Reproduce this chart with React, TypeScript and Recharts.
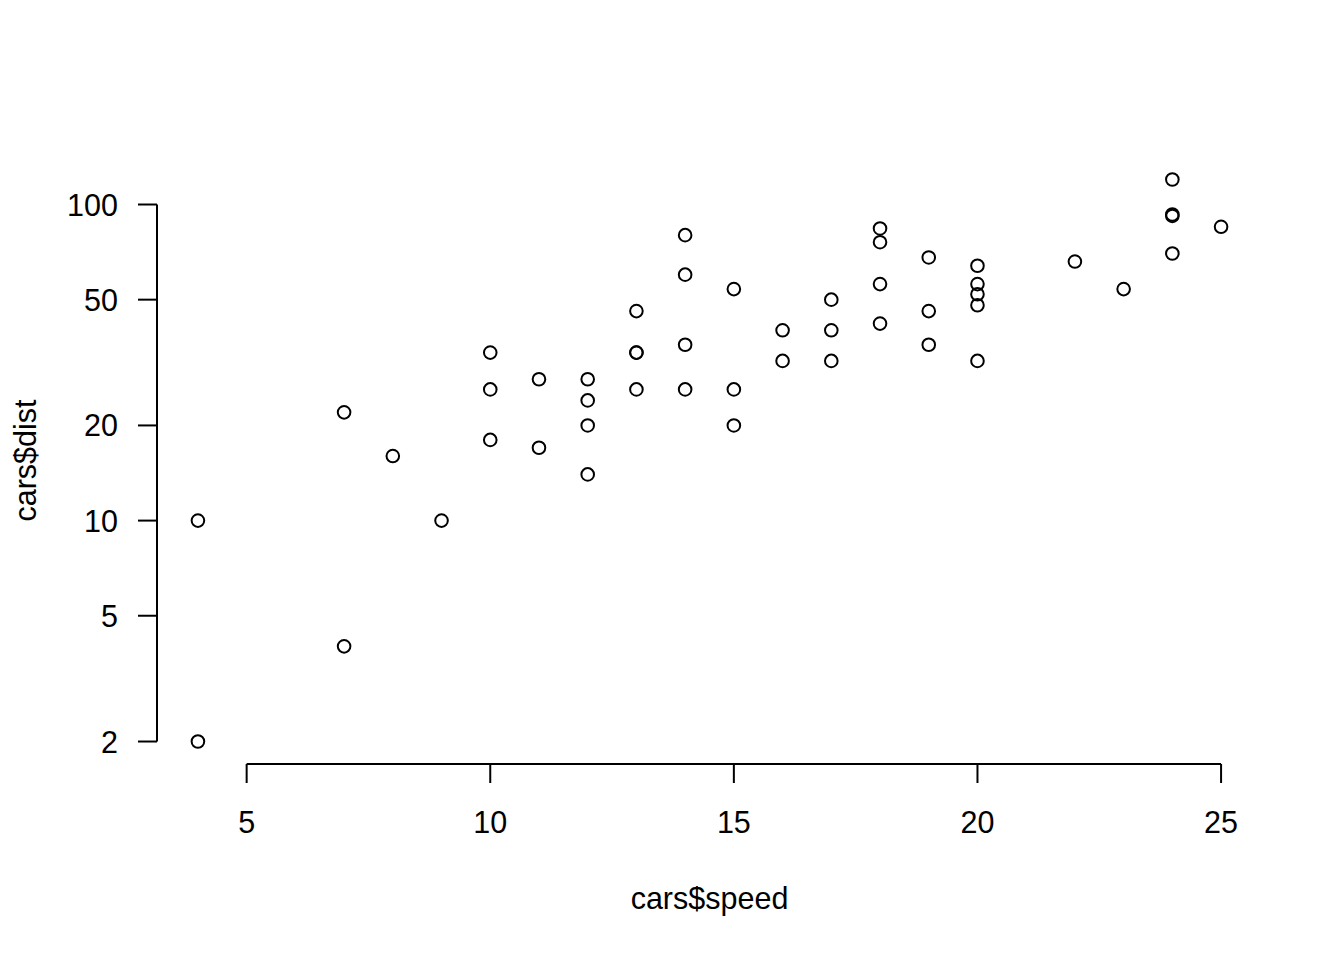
import { Label, ReferenceLine, Scatter, ScatterChart, XAxis, YAxis } from 'recharts'

// R's built-in `cars` data set
const speed = [
  4, 4, 7, 7, 8, 9, 10, 10, 10, 11, 11, 12, 12, 12, 12, 13, 13, 13, 13, 14, 14, 14, 14, 15, 15,
  15, 16, 16, 17, 17, 17, 18, 18, 18, 18, 19, 19, 19, 20, 20, 20, 20, 20, 22, 23, 24, 24, 24, 24, 25,
]
const dist = [
  2, 10, 4, 22, 16, 10, 18, 26, 34, 17, 28, 14, 20, 24, 28, 26, 34, 34, 46, 26, 36, 60, 80, 20, 26,
  54, 32, 40, 32, 40, 50, 42, 56, 76, 84, 36, 46, 68, 32, 48, 52, 56, 64, 66, 54, 70, 92, 93, 120, 85,
]
const xTicks = [5, 10, 15, 20, 25]
const yTicks = [2, 5, 10, 20, 50, 100]

const FONT = '"Liberation Sans", Arial, sans-serif'
const FS = 30.5
const LW = 2

// R pads the data range by 4% on each side (log scale for y)
const xMin = Math.min(...speed)
const xMax = Math.max(...speed)
const xPad = (xMax - xMin) * 0.04
const xLo = xMin - xPad
const xHi = xMax + xPad

const lMin = Math.log10(Math.min(...dist))
const lMax = Math.log10(Math.max(...dist))
const lPad = (lMax - lMin) * 0.04
const yLo = Math.pow(10, lMin - lPad)
const yHi = Math.pow(10, lMax + lPad)

const data = speed.map((s, i) => ({ speed: s, dist: dist[i] }))

function XTick({ x, y, payload }: any) {
  return (
    <text x={x} y={y + 50} textAnchor="middle" fontSize={FS} fontFamily={FONT} fill="#000">
      {payload.value}
    </text>
  )
}

function YTick({ x, y, payload }: any) {
  return (
    <text x={x} y={y + 11} textAnchor="end" fontSize={FS} fontFamily={FONT} fill="#000">
      {payload.value}
    </text>
  )
}

function Ring({ cx, cy }: any) {
  return <circle cx={cx} cy={cy} r={6.3} fill="none" stroke="#000" strokeWidth={LW} />
}

function XTitle({ viewBox }: any) {
  const cx = viewBox.x + viewBox.width / 2
  return (
    <text x={cx} y={909} textAnchor="middle" fontSize={FS} fontFamily={FONT} fill="#000">
      cars$speed
    </text>
  )
}

function YTitle({ viewBox }: any) {
  const cy = viewBox.y + viewBox.height / 2
  const x = 36
  return (
    <text
      x={x}
      y={cy}
      transform={`rotate(-90, ${x}, ${cy})`}
      textAnchor="middle"
      fontSize={FS}
      fontFamily={FONT}
      fill="#000"
    >
      cars$dist
    </text>
  )
}

export default function App() {
  return (
    <div style={{ position: 'absolute', left: 0, top: 0, width: 1344, height: 960, background: '#fff' }}>
      <ScatterChart width={1344} height={960} margin={{ top: 157, right: 82, bottom: 0, left: 0 }}>
        <XAxis
          dataKey="speed"
          type="number"
          domain={[xLo, xHi]}
          allowDataOverflow
          ticks={xTicks}
          height={196}
          axisLine={false}
          tickLine={{ stroke: '#000', strokeWidth: LW }}
          tickSize={19}
          tickMargin={0}
          tick={<XTick />}
          interval={0}
        >
          <Label content={<XTitle />} />
        </XAxis>
        <YAxis
          dataKey="dist"
          type="number"
          scale="log"
          domain={[yLo, yHi]}
          allowDataOverflow
          ticks={yTicks}
          width={157}
          axisLine={false}
          tickLine={{ stroke: '#000', strokeWidth: LW }}
          tickSize={19}
          tickMargin={20}
          tick={<YTick />}
          interval={0}
        >
          <Label content={<YTitle />} />
        </YAxis>
        <ReferenceLine
          segment={[
            { x: xTicks[0], y: yLo },
            { x: xTicks[xTicks.length - 1], y: yLo },
          ]}
          stroke="#000"
          strokeWidth={LW}
          ifOverflow="visible"
        />
        <ReferenceLine
          segment={[
            { x: xLo, y: yTicks[0] },
            { x: xLo, y: yTicks[yTicks.length - 1] },
          ]}
          stroke="#000"
          strokeWidth={LW}
          ifOverflow="visible"
        />
        <Scatter data={data} shape={<Ring />} isAnimationActive={false} />
      </ScatterChart>
    </div>
  )
}
